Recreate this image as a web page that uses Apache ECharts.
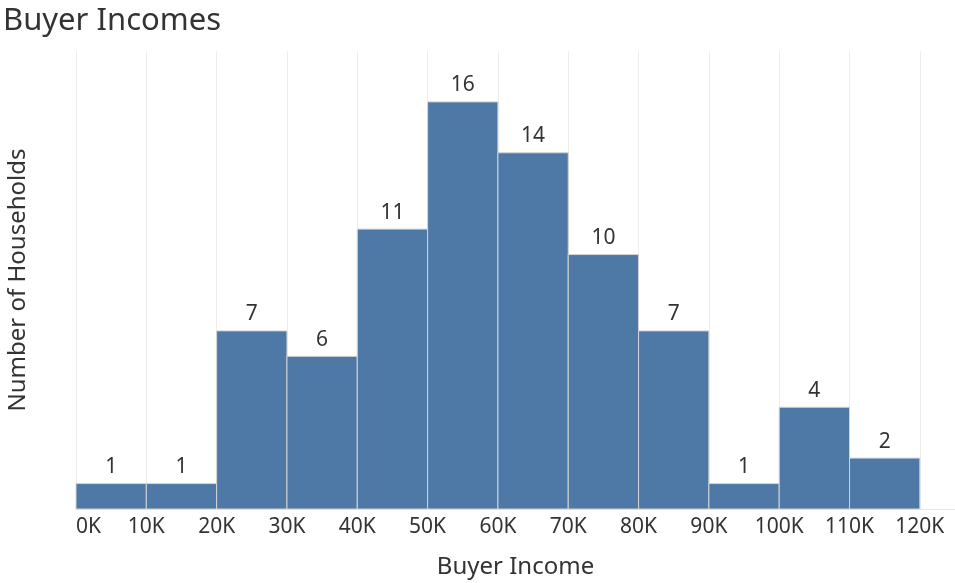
<!DOCTYPE html>
<html>
<head>
<meta charset="utf-8">
<style>
  html, body { margin: 0; padding: 0; background: #fff; }
  #chart { width: 955px; height: 583px; }
</style>
<script src="https://cdn.jsdelivr.net/npm/echarts@6/dist/echarts.min.js"></script>
</head>
<body>
<div id="chart"></div>
<script>
// Income bins (in thousands) and household counts per bin
const binStarts = [0, 10, 20, 30, 40, 50, 60, 70, 80, 90, 100, 110];
const binWidth = 10;
const households = [1, 1, 7, 6, 11, 16, 14, 10, 7, 1, 4, 2];
const tickValues = [0, 10, 20, 30, 40, 50, 60, 70, 80, 90, 100, 110, 120];

const FONT = '"Noto Sans", "Open Sans", sans-serif';
const TEXT = '#333333';

const data = binStarts.map((s, i) => [s, s + binWidth, households[i]]);

const chart = echarts.init(document.getElementById('chart'));
chart.setOption({
  animation: false,
  title: {
    text: 'Buyer Incomes',
    left: -2,
    top: 1,
    textStyle: { fontFamily: FONT, fontSize: 31, fontWeight: 'normal', color: TEXT }
  },
  grid: {
    left: 76, right: 0, top: 51, bottom: 74,
    containLabel: false,
    outerBoundsMode: 'none'
  },
  xAxis: {
    type: 'value',
    min: 0,
    max: 125,
    interval: 10,
    name: 'Buyer Income',
    nameLocation: 'middle',
    nameGap: 46,
    nameTextStyle: { fontFamily: FONT, fontSize: 24, color: TEXT },
    axisLine: { show: true, lineStyle: { color: '#e6e6e6', width: 1 } },
    axisTick: { show: false },
    axisLabel: {
      fontFamily: FONT, fontSize: 21, color: TEXT, margin: 8,
      showMaxLabel: false,
      alignMinLabel: 'left',
      formatter: v => (tickValues.indexOf(v) >= 0 ? v + 'K' : '')
    },
    splitLine: { show: true, lineStyle: { color: '#ededed', width: 1 } }
  },
  yAxis: {
    type: 'value',
    min: 0,
    max: 18,
    name: 'Number of Households',
    nameLocation: 'middle',
    nameGap: 46,
    nameTextStyle: { fontFamily: FONT, fontSize: 24, color: TEXT },
    axisLine: { show: false },
    axisTick: { show: false },
    axisLabel: { show: false },
    splitLine: { show: false }
  },
  series: [{
    type: 'custom',
    data: data,
    encode: { x: [0, 1], y: 2 },
    renderItem: function (params, api) {
      const p0 = api.coord([api.value(0), 0]);
      const p1 = api.coord([api.value(1), api.value(2)]);
      return {
        type: 'group',
        children: [{
          type: 'rect',
          shape: { x: p0[0], y: p1[1], width: p1[0] - p0[0], height: p0[1] - p1[1] },
          style: { fill: '#4e79a7', stroke: '#d4d4d4', lineWidth: 1 }
        }, {
          type: 'text',
          x: (p0[0] + p1[0]) / 2,
          y: p1[1] - 6,
          style: {
            text: String(api.value(2)),
            fill: TEXT,
            font: '21px ' + FONT,
            textAlign: 'center',
            textVerticalAlign: 'bottom'
          }
        }]
      };
    }
  }]
});
</script>
</body>
</html>
